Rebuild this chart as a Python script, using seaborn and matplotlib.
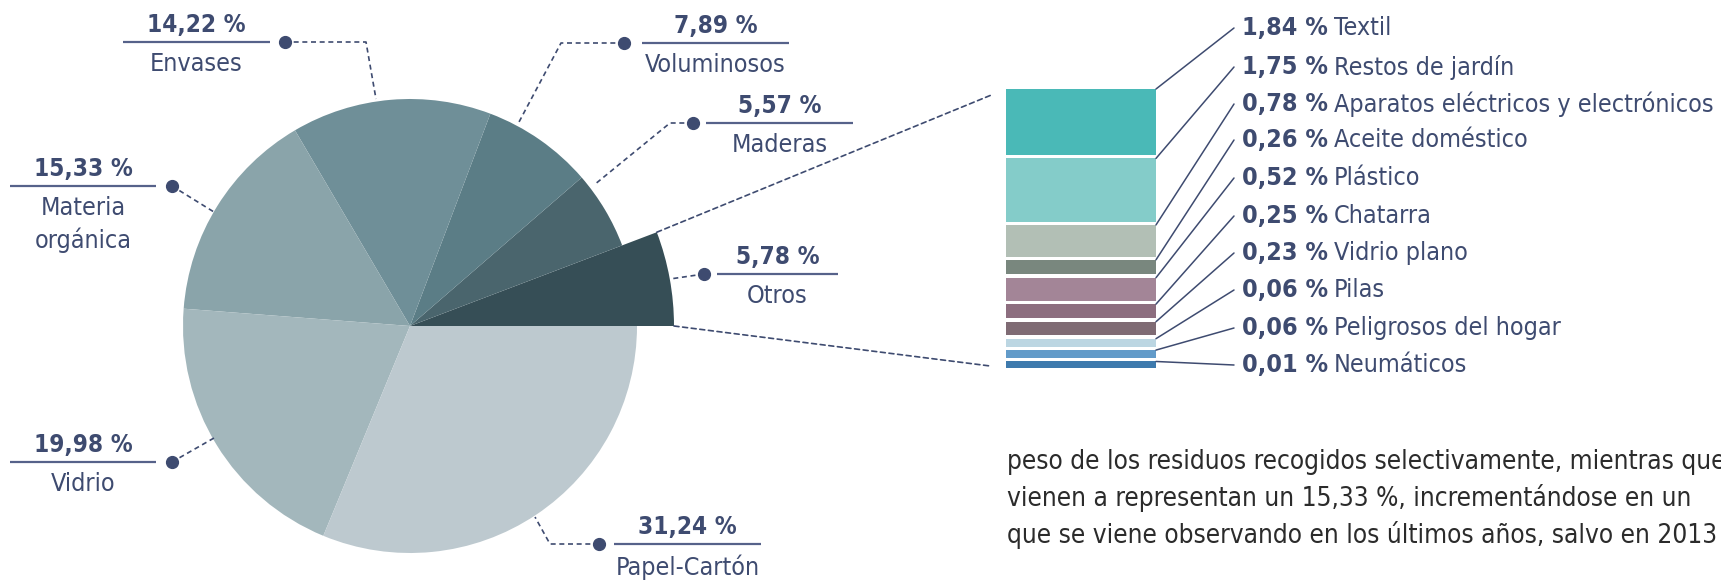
import numpy as np
import pandas as pd
import matplotlib
matplotlib.use("Agg")
import matplotlib.pyplot as plt
from matplotlib.patches import ConnectionPatch
import seaborn as sns

W, H = 1721, 582

# main pie: share of selectively collected waste
pie_labels = ['Otros', 'Maderas', 'Voluminosos', 'Envases', 'Materia\norgánica', 'Vidrio', 'Papel-Cartón']
pie_values = [5.78, 5.57, 7.89, 14.22, 15.33, 19.98, 31.24]
pie_colors = ['#364e56', '#4a656d', '#5b7d86', '#6f8f98', '#8aa4aa', '#a3b7bc', '#bdc9cf']

# breakdown of "Otros"
otros_labels = ['Textil', 'Restos de jardín', 'Aparatos eléctricos y electrónicos', 'Aceite doméstico',
                'Plástico', 'Chatarra', 'Vidrio plano', 'Pilas', 'Peligrosos del hogar', 'Neumáticos']
otros_values = [1.84, 1.75, 0.78, 0.26, 0.52, 0.25, 0.23, 0.06, 0.06, 0.01]
otros_colors = ['#4ab9b7', '#84ccc9', '#b2bfb5', '#79877e', '#a38597', '#8d6e7f', '#7f6b74',
                '#bcd6e2', '#629bc9', '#3e7aad']

paragraph = ['peso de los residuos recogidos selectivamente, mientras que',
             'vienen a representan un 15,33 %, incrementándose en un',
             'que se viene observando en los últimos años, salvo en 2013']

# callout layout in pixels (from top-left): underline y, underline x-range, dot x, leader path
callouts = {
    'Envases':          (42, 123, 270, 285, [(366, 42), (376, 99)]),
    'Voluminosos':      (43, 642, 789, 624, [(561, 43), (519, 122)]),
    'Maderas':          (123, 706, 853, 693, [(670, 123), (594, 185)]),
    'Otros':            (274, 717, 838, 704, [(670, 279)]),
    'Materia\norgánica': (186, 10, 156, 172, [(214, 212)]),
    'Vidrio':           (462, 10, 156, 172, [(214, 438)]),
    'Papel-Cartón':     (544, 614, 761, 599, [(550, 544), (535, 517)]),
}
right_label_y = [28, 67, 104, 140, 178, 216, 253, 290, 328, 365]

NAVY = '#3e4b70'
DASH = (0, (3, 2.2))

def pct(v):
    return f"{v:.2f}".replace('.', ',') + ' %'

sns.set_theme(style='white')
plt.rcParams['font.family'] = ['DejaVu Sans']
plt.rcParams['font.stretch'] = 'condensed'

fig = plt.figure(figsize=(W / 100, H / 100), dpi=100)
ax = fig.add_axes([0, 0, 1, 1])

df_pie = pd.DataFrame({'label': pie_labels, 'value': pie_values})
wedges, _ = ax.pie(df_pie['value'], colors=pie_colors, startangle=0, counterclock=True,
                   radius=227, center=(410, H - 326), wedgeprops=dict(linewidth=0))
wedges[0].set_radius(264)  # "Otros" sticks out

ax.set_xlim(0, W)
ax.set_ylim(0, H)
ax.set_aspect('equal')
ax.axis('off')

for lab, val in zip(pie_labels, pie_values):
    ly, x0, x1, dx, path = callouts[lab]
    cx = (x0 + x1) / 2
    ax.plot([x0, x1], [H - ly, H - ly], color='#56628a', lw=1.6, solid_capstyle='butt')
    ax.text(cx, H - ly + 10, pct(val), ha='center', va='baseline', fontsize=17.5,
            fontweight='bold', color=NAVY, fontstretch='condensed')
    ax.text(cx, H - ly - 10, lab, ha='center', va='top', fontsize=18, color=NAVY,
            linespacing=1.35, fontstretch='condensed')
    pts = [(dx, ly)] + path
    ax.plot([p[0] for p in pts], [H - p[1] for p in pts], color=NAVY, lw=1.2, ls=DASH)
    ax.plot(dx, H - ly, 'o', ms=8.5, color=NAVY)

# stacked bar for "Otros"
pad, gap = 0.19, 0.10
df_otros = pd.DataFrame({'label': otros_labels, 'value': otros_values, 'color': otros_colors})
df_otros['h'] = df_otros['value'] + pad
df_otros['bottom'] = (df_otros['h'] + gap).cumsum().shift(fill_value=0)
total = df_otros['bottom'].iloc[-1] + df_otros['h'].iloc[-1]

axb = fig.add_axes([1006 / W, (H - 368) / H, 150 / W, 279 / H])
axb.bar(0, df_otros['h'], bottom=df_otros['bottom'], width=1, color=df_otros['color'], linewidth=0)
axb.set_xlim(-0.5, 0.5)
axb.set_ylim(total, 0)
axb.axis('off')

for (_, row), ly in zip(df_otros.iterrows(), right_label_y):
    con = ConnectionPatch(xyA=(0.5, row['bottom']), coordsA=axb.transData,
                          xyB=(1234, H - ly), coordsB=ax.transData, color=NAVY, lw=1.1)
    fig.add_artist(con)
    t = ax.text(1242, H - ly, pct(row['value']), ha='left', va='center', fontsize=18,
                fontweight='bold', color=NAVY, fontstretch='condensed')
    ax.annotate(row['label'], xy=(1, 0.5), xycoords=t, xytext=(6, 0), textcoords='offset pixels',
                ha='left', va='center', fontsize=18, color=NAVY, fontstretch='condensed')

# dashed zoom lines from the "Otros" wedge to the bar
w0 = wedges[0]
th = np.deg2rad(w0.theta2)
corner_top = (w0.center[0] + w0.r * np.cos(th), w0.center[1] + w0.r * np.sin(th))
corner_bot = (w0.center[0] + w0.r, w0.center[1])
for xyA, yb in [(corner_top, 0), (corner_bot, total)]:
    con = ConnectionPatch(xyA=xyA, coordsA=ax.transData, xyB=(-0.5, yb), coordsB=axb.transData,
                          color=NAVY, lw=1.2, ls=DASH, shrinkB=12)
    fig.add_artist(con)

for i, line in enumerate(paragraph):
    ax.text(1007, H - (462 + 36.5 * i), line, ha='left', va='center', fontsize=18.8,
            color='#2b2b2b', fontstretch='condensed')

fig.savefig('out.png', dpi=100)
